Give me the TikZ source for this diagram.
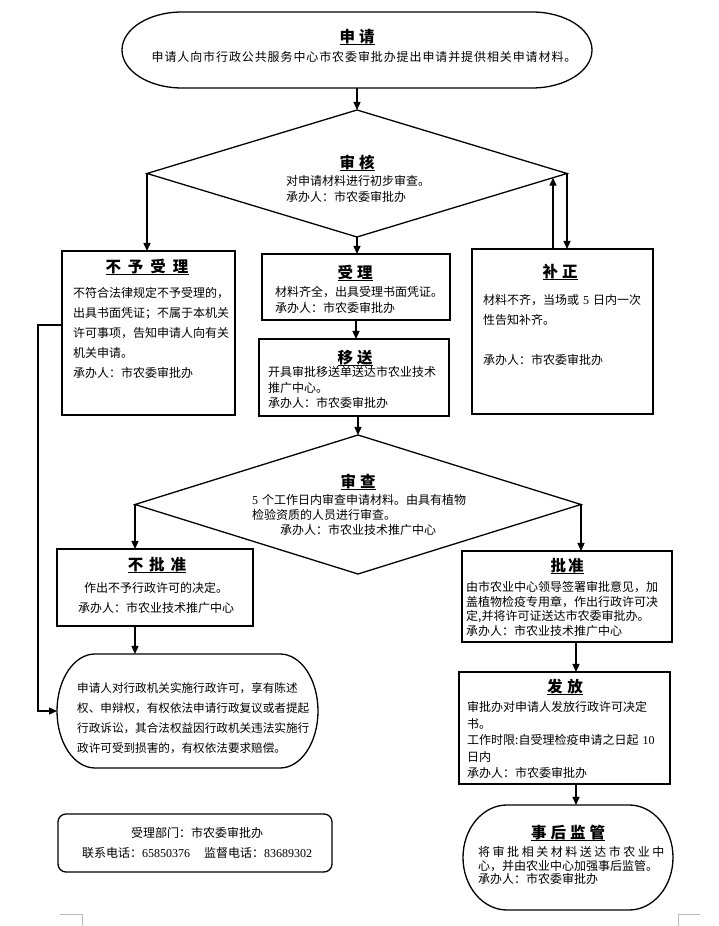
\documentclass[tikz,border=0pt]{standalone}
\usepackage{fontspec}
\setmainfont{Noto Sans CJK SC}
\newfontfamily\numf{Liberation Serif}
\usetikzlibrary{shapes.geometric,arrows.meta}
\newcommand\mystadium[3]{%
  \draw[line width=1.3pt] ([xshift=#2]#1.north west) -- ([xshift=-#2]#1.north east)
    arc[start angle=90,end angle=-90,x radius=#2,y radius=#3]
    -- ([xshift=#2]#1.south west)
    arc[start angle=270,end angle=90,x radius=#2,y radius=#3] -- cycle;}
\newcommand\ttlu[1]{\setbox0=\hbox{#1}\leavevmode\rlap{\rule[-2.6pt]{\wd0}{1pt}}\box0}
\tikzset{
  boxline/.style={draw, line width=1.3pt, inner sep=0pt, outer sep=0pt},
  shell/.style={inner sep=0pt, outer sep=0pt},
  arr/.style={line width=1.3pt, -{Triangle[length=8pt,width=7pt]}},
  ttl/.style={font=\fontsize{15.5}{15.5}\selectfont\bfseries, inner sep=0pt, anchor=base},
  body/.style={font=\fontsize{12}{#1}\selectfont, inner sep=0pt, anchor=base west, align=left, text width=250pt},
  body/.default=20pt,
  cbody/.style={font=\fontsize{12}{#1}\selectfont, inner sep=0pt, anchor=base, align=center, text width=250pt},
  cbody/.default=20pt,
  pagemark/.style={gray!55, line width=0.6pt}
}
\begin{document}
\begin{tikzpicture}[x=1pt,y=1pt]
\fill[white] (0,0) rectangle (718,926);
\useasboundingbox (0,0) rectangle (718,926);

% ---------- shapes ----------
\node[shell, minimum width=470pt, minimum height=76pt] (top) at (357,876) {};
\mystadium{top}{60pt}{38pt}
\node[boxline, diamond, minimum width=420pt, minimum height=127pt] (d1) at (357,752.5) {};
\node[boxline, minimum width=173pt, minimum height=164pt] (buyu) at (148.5,593) {};
\node[boxline, minimum width=188pt, minimum height=66pt] (shouli) at (356,639) {};
\node[boxline, minimum width=190pt, minimum height=77pt] (yisong) at (354,548.5) {};
\node[boxline, minimum width=181pt, minimum height=165pt] (buzheng) at (562.5,594.5) {};
\node[boxline, diamond, minimum width=446pt, minimum height=139pt] (d2) at (358,421.5) {};
\node[boxline, minimum width=196pt, minimum height=77pt] (bupi) at (155,338.5) {};
\node[boxline, minimum width=210pt, minimum height=91pt] (pizhun) at (567,329.5) {};
\node[shell, minimum width=261pt, minimum height=114pt] (quanli) at (187.5,215) {};
\mystadium{quanli}{38pt}{57pt}
\node[boxline, minimum width=211pt, minimum height=112pt] (fafang) at (564.5,198) {};
\node[shell, minimum width=210pt, minimum height=105pt] (shihou) at (568,68.5) {};
\mystadium{shihou}{44pt}{52.5pt}
\node[boxline, rounded corners=8pt, minimum width=274pt, minimum height=58pt] (contact) at (195,83) {};

% ---------- texts ----------
\node[ttl] (t0) at (357,883.3) {\ttlu{申\hspace{4pt}请}};
\node[cbody, text width=460pt] (b0) at (364,864.4) {\addfontfeature{LetterSpace=7.5}申请人向市行政公共服务中心市农委审批办提出申请并提供相关申请材料。};

\node[ttl] (t1) at (357,757.3) {\ttlu{审\hspace{4pt}核}};
\node[body=16pt] (b1) at (286,740.4) {对申请材料进行初步审查。\\承办人：市农委审批办};

\node[ttl] (t2) at (147,653.3) {\ttlu{不\hspace{7pt}予\hspace{7pt}受\hspace{7pt}理}};
\node[body=20pt] (b2) at (73,628.4) {不符合法律规定不予受理的，\\出具书面凭证；不属于本机关\\许可事项，告知申请人向有关\\机关申请。\\承办人：市农委审批办};

\node[ttl] (t3) at (355,647.3) {\ttlu{受\hspace{4pt}理}};
\node[body=16pt] (b3) at (275,629.4) {材料齐全，出具受理书面凭证。\\承办人：市农委审批办};

\node[ttl] (t4) at (355,562.3) {\ttlu{移\hspace{4pt}送}};
\node[body=15.5pt] (b4) at (268,549.4) {开具审批移送单送达市农业技术\\推广中心。\\承办人：市农委审批办};

\node[ttl] (t5) at (560,648.3) {\ttlu{补\hspace{4pt}正}};
\node[body=20pt] (b5) at (483,621.4) {材料不齐，当场或 {\numf 5} 日内一次\\性告知补齐。\\[20pt]承办人：市农委审批办};

\node[ttl] (t6) at (358,438.3) {\ttlu{审\hspace{4pt}查}};
\node[body=15pt] (b6) at (252,421.4) {{\numf 5} 个工作日内审查申请材料。由具有植物\\检验资质的人员进行审查。};
\node[cbody] (b6b) at (358,391.4) {承办人：市农业技术推广中心};

\node[ttl] (t7) at (157,355.3) {\ttlu{不\hspace{6pt}批\hspace{6pt}准}};
\node[cbody=20pt, text width=190pt] (b7) at (156,333.4) {作出不予行政许可的决定。\\承办人：市农业技术推广中心};

\node[ttl] (t8) at (567,354.3) {\ttlu{批\hspace{2pt}准}};
\node[body=14.5pt] (b8) at (466,334.4) {由市农业中心领导签署审批意见，加\\盖植物检疫专用章，作出行政许可决\\定,并将许可证送达市农委审批办。\\承办人：市农业技术推广中心};

\node[body=20pt, font=\fontsize{11.6}{20pt}\selectfont] (b9) at (77,233.4) {申请人对行政机关实施行政许可，享有陈述\\权、申辩权，有权依法申请行政复议或者提起\\行政诉讼，其合法权益因行政机关违法实施行\\政许可受到损害的，有权依法要求赔偿。};

\node[ttl] (t10) at (565,233.3) {\ttlu{发\hspace{5pt}放}};
\node[body=16.5pt] (b10) at (467,214.4) {审批办对申请人发放行政许可决定\\书。\\工作时限:自受理检疫申请之日起 {\numf 10}\\日内\\承办人：市农委审批办};

\node[ttl] (t11) at (568,87.3) {\ttlu{事\hspace{4pt}后\hspace{4pt}监\hspace{4pt}管}};
\node[body=13.5pt] (b11) at (478,69.4) {{\addfontfeature{LetterSpace=21}将审批相关材料送达市农业中}\\心，并由农业中心加强事后监管。\\承办人：市农委审批办};

\node[cbody] (c1) at (197,88.4) {受理部门：市农委审批办};
\node[cbody] (c2) at (197,68.4) {联系电话：{\numf 65850376}\hspace{14pt}监督电话：{\numf 83689302}};

% ---------- connectors ----------
\coordinate (bzup) at (553,748.3);
\coordinate (rx) at (576,0);
\draw[arr] (top.south) -- (top.south |- d1.north);
\draw[arr] (d1.west) -- (d1.west |- buyu.north);
\draw[arr] (d1.south) -- (d1.south |- shouli.north);
\draw[arr] (d1.east) -- (d1.east |- buzheng.north);
\draw[arr] (bzup |- buzheng.north) -- (bzup);
\draw[arr] (shouli.south) -- (shouli.south |- yisong.north);
\draw[arr] (d2.north |- yisong.south) -- (d2.north);
\draw[arr] (d2.west) -- (d2.west |- bupi.north);
\draw[arr] (d2.east) -- (d2.east |- pizhun.north);
\draw[arr] (d2.west |- bupi.south) -- (d2.west |- quanli.north);
\draw[arr] ([yshift=8pt]buyu.west) -- ++(-24,0) |- (quanli.west);
\draw[arr] (rx |- pizhun.south) -- (rx |- fafang.north);
\draw[arr] (rx |- fafang.south) -- (rx |- shihou.north);

% ---------- page corner marks ----------
\draw[pagemark] (60,12) -- (82,12) -- (82,0);
\draw[pagemark] (678,0) -- (678,12) -- (700,12);
\end{tikzpicture}
\end{document}
